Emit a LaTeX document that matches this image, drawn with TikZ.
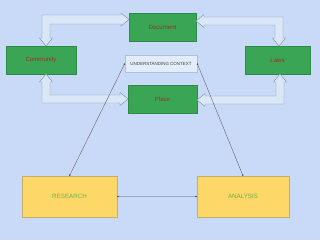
\documentclass[tikz,border=0pt]{standalone}
\usepackage{fontspec}
\setmainfont{Liberation Sans}
\usetikzlibrary{arrows.meta}
\definecolor{bgblue}{HTML}{C9DAF8}
\definecolor{boxgreen}{HTML}{3AA655}
\definecolor{greenedge}{HTML}{2E8B47}
\definecolor{darkred}{HTML}{9E2F22}
\definecolor{boxyellow}{HTML}{FDD868}
\definecolor{yellowedge}{HTML}{C2B066}
\definecolor{textgreen}{HTML}{6AB04C}
\definecolor{arrowfill}{HTML}{D9E7F6}
\definecolor{arrowedge}{HTML}{8796A6}
\definecolor{ctxfill}{HTML}{E2ECFA}
\definecolor{ctxedge}{HTML}{A6C6CE}
\definecolor{linkgray}{HTML}{9AAAC2}
\tikzset{
  greenbox/.style={draw=greenedge,fill=boxgreen,text=darkred,font=\fontsize{5.2}{6}\selectfont,minimum height=0.84cm,inner sep=0pt},
  yellowbox/.style={draw=yellowedge,fill=boxyellow,text=textgreen,font=\fontsize{5.3}{6}\selectfont,minimum height=1.23cm,inner sep=0pt},
  blockarrow/.style={draw=arrowedge,fill=arrowfill,line width=0.4pt,line join=miter},
  thinlink/.style={draw=black!60,line width=0.35pt,{Circle[length=1.3pt,color=black!70]}-{Circle[length=1.3pt,color=black!70]}}
}
\begin{document}
\begin{tikzpicture}[x=0.03cm,y=-0.03cm]
\fill[bgblue] (0,0) rectangle (320,240);
\useasboundingbox (0,0) rectangle (320,240);
% boxes
\node[greenbox,minimum width=2.01cm] (doc) at (162.5,27) {Document};
\node[greenbox,minimum width=2.1cm] (comm) at (41,60) {Community};
\node[greenbox,minimum width=1.95cm] (laws) at (277.5,60) {Laws};
\node[draw=ctxedge,fill=ctxfill,minimum width=2.16cm,minimum height=0.51cm,inner sep=0pt,font=\fontsize{3.8}{4}\selectfont,text=black!75] (ctx) at (161,63.5) {UNDERSTANDING CONTEXT};
\node[greenbox,minimum width=2.07cm] (place) at (162.5,99) {Place};
\node[yellowbox,minimum width=2.85cm] (res) at (69.5,196.5) {RESEARCH};
\node[yellowbox,minimum width=2.76cm] (ana) at (243,196.5) {ANALYSIS};
% block arrows
\draw[blockarrow] (46,46)--(52.5,38)--(50,38)--(50,24)--(121,24)--(121,26)--(129,19.5)--(121,13)--(121,15)--(42,15)--(42,38)--(39.5,38)--cycle;
\draw[blockarrow] (196,21)--(204,14.5)--(204,17)--(283,17)--(283,38)--(285.5,38)--(279,46)--(272.5,38)--(275,38)--(275,25)--(204,25)--(204,27.5)--cycle;
\draw[blockarrow] (46,74)--(52.5,82)--(50,82)--(50,95)--(120,95)--(120,92.5)--(128,99)--(120,105.5)--(120,103)--(42,103)--(42,82)--(39.5,82)--cycle;
\draw[blockarrow] (280,74)--(286.5,82)--(284,82)--(284,104)--(205,104)--(205,106.5)--(197,100)--(205,93.5)--(205,96)--(276,96)--(276,82)--(273.5,82)--cycle;
% links
\draw[thinlink] (ctx.west)--(res.north);
\draw[thinlink] (ctx.east)--(ana.north);
\draw[thinlink,draw=linkgray,line width=1.1pt] (res.east)--(ana.west);
\end{tikzpicture}
\end{document}
